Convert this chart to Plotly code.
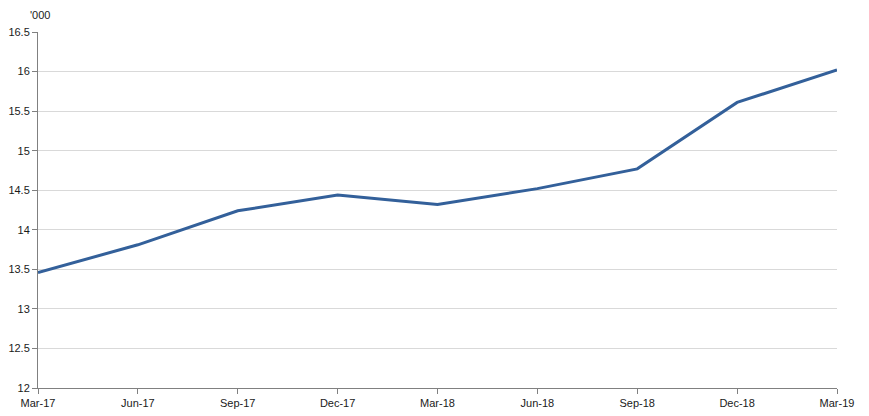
import plotly.graph_objects as go

categories = ["Mar-17", "Jun-17", "Sep-17", "Dec-17", "Mar-18", "Jun-18", "Sep-18", "Dec-18", "Mar-19"]
values = [13.46, 13.81, 14.24, 14.44, 14.32, 14.52, 14.77, 15.61, 16.02]
y_ticks = [12, 12.5, 13, 13.5, 14, 14.5, 15, 15.5, 16, 16.5]
y_labels = ["12", "12.5", "13", "13.5", "14", "14.5", "15", "15.5", "16", "16.5"]

fig = go.Figure()
fig.add_trace(go.Scatter(
    x=list(range(len(categories))), y=values, mode="lines",
    line=dict(color="#33609A", width=3), hoverinfo="skip", showlegend=False,
))

# page body has an 8px margin, so the figure is sized to fit the 869x416 window
fig.update_layout(
    width=861, height=408,
    margin=dict(l=30, r=32, t=24, b=28, autoexpand=False),
    paper_bgcolor="white", plot_bgcolor="white",
    font=dict(family="Liberation Sans, Arial, sans-serif", size=11, color="#1a1a1a"),
    xaxis=dict(
        range=[0, len(categories) - 1], automargin=False,
        tickmode="array", tickvals=list(range(len(categories))), ticktext=categories,
        showgrid=False, showline=True, linecolor="#808080", linewidth=1,
        ticks="outside", ticklen=5, tickcolor="#808080",
        tickfont=dict(size=11), zeroline=False,
    ),
    yaxis=dict(
        range=[12, 16.5], automargin=False,
        tickmode="array", tickvals=y_ticks, ticktext=y_labels,
        showgrid=True, gridcolor="#d9d9d9", gridwidth=1,
        showline=True, linecolor="#808080", linewidth=1,
        ticks="outside", ticklen=5, tickcolor="#808080",
        tickfont=dict(size=11), zeroline=False,
    ),
    annotations=[dict(
        text="'000", xref="paper", yref="paper", x=-0.013, y=1.0, yshift=17,
        xanchor="left", yanchor="middle", showarrow=False, font=dict(size=11),
    )],
)

fig.write_html("out.html")
